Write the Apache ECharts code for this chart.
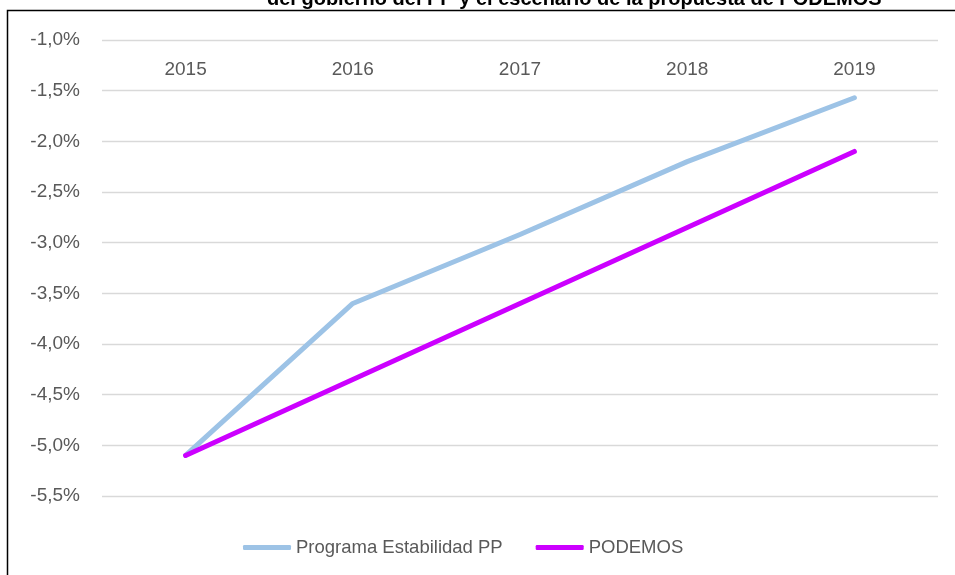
<!DOCTYPE html>
<html>
<head>
<meta charset="utf-8">
<style>
  html, body { margin: 0; padding: 0; background: #fff; }
  #container { width: 955px; height: 575px; }
</style>
<script src="https://cdn.jsdelivr.net/npm/echarts@6/dist/echarts.min.js"></script>
</head>
<body>
<div id="container"></div>
<script>
var years = ['2015', '2016', '2017', '2018', '2019'];
var ppValues = [-5.1, -3.6, -2.92, -2.2, -1.57];
var podemosValues = [-5.1, -4.35, -3.6, -2.85, -2.1];
var seriesNames = ['Programa Estabilidad PP', 'PODEMOS'];
var titleText = 'del gobierno del PP y el escenario de la propuesta de PODEMOS';

var dom = document.getElementById('container');
var myChart = echarts.init(dom, null, { renderer: 'canvas' });

var font = 'Liberation Sans, Arial, sans-serif';
var option = {
  animation: false,
  title: {
    text: titleText,
    left: 262,
    top: -16,
    textStyle: { fontFamily: font, fontSize: 20, fontWeight: 'bold', color: '#000' }
  },
  graphic: [{
    type: 'rect',
    shape: { x: 7.5, y: 10.5, width: 980, height: 620 },
    style: { fill: 'none', stroke: '#000', lineWidth: 1.5 },
    silent: true
  }],
  grid: { left: 102, right: 17, top: 40, bottom: 79, containLabel: false },
  legend: {
    data: seriesNames,
    bottom: 13,
    left: 238,
    icon: 'roundRect',
    itemWidth: 48,
    itemHeight: 5,
    itemGap: 33,
    textStyle: { fontFamily: font, fontSize: 18.5, color: '#595959' }
  },
  xAxis: {
    type: 'category',
    data: years,
    position: 'top',
    boundaryGap: true,
    axisLine: { show: false },
    axisTick: { show: false },
    axisLabel: { inside: true, margin: 20, fontFamily: font, fontSize: 19, color: '#595959' }
  },
  yAxis: {
    type: 'value',
    min: -5.5,
    max: -1,
    interval: 0.5,
    axisLine: { show: false },
    axisTick: { show: false },
    splitLine: { lineStyle: { color: '#d9d9d9', width: 1.3 } },
    axisLabel: {
      margin: 22,
      fontFamily: font,
      fontSize: 19,
      color: '#595959',
      formatter: function (v) { return v.toFixed(1).replace('.', ',') + '%'; }
    }
  },
  series: [
    {
      name: seriesNames[0],
      type: 'line',
      data: ppValues,
      symbol: 'none',
      color: '#9dc3e6',
      lineStyle: { color: '#9dc3e6', width: 5, cap: 'round', join: 'round' }
    },
    {
      name: seriesNames[1],
      type: 'line',
      data: podemosValues,
      symbol: 'none',
      color: '#cc00ff',
      lineStyle: { color: '#cc00ff', width: 5, cap: 'round', join: 'round' }
    }
  ]
};

myChart.setOption(option);
window.addEventListener('resize', myChart.resize);
</script>
</body>
</html>
